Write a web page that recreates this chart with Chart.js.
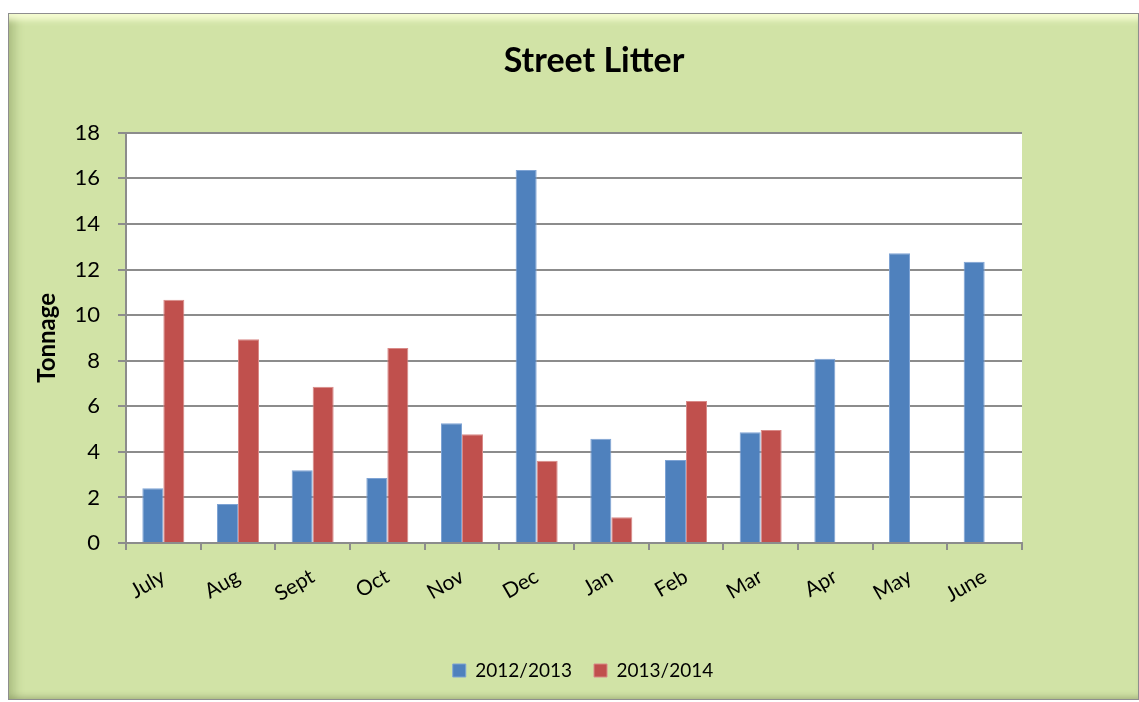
<!DOCTYPE html>
<html>
<head>
<meta charset="utf-8">
<script src="https://cdn.jsdelivr.net/npm/chart.js@4/dist/chart.umd.min.js"></script>
<style>
  html, body { margin: 0; padding: 0; background: #ffffff; overflow: hidden; }
  #frame {
    position: absolute; left: 8px; top: 13px; width: 1129px; height: 685px;
    background: #d1e3a6;
    border: 1px solid #8e8e8e;
    box-shadow: inset 0 12px 6px -6px rgba(250,255,215,0.9),
                inset 12px 0 10px -6px rgba(110,130,70,0.35),
                inset 0 -6px 6px -4px rgba(90,100,60,0.35);
  }
  #wrap { position: absolute; left: 0; top: 0; width: 1139px; height: 702px; }
</style>
</head>
<body>
<div id="frame"></div>
<div id="wrap"><canvas id="c" width="1139" height="702"></canvas></div>
<script>
const categories = ["July","Aug","Sept","Oct","Nov","Dec","Jan","Feb","Mar","Apr","May","June"];
const series2012 = [2.40, 1.71, 3.19, 2.85, 5.25, 16.37, 4.57, 3.64, 4.86, 8.08, 12.72, 12.34];
const series2013 = [10.67, 8.94, 6.86, 8.56, 4.77, 3.61, 1.13, 6.23, 4.96, null, null, null];
const seriesNames = ["2012/2013", "2013/2014"];
const yTicks = [0, 2, 4, 6, 8, 10, 12, 14, 16, 18];

const FONT = "Lato, 'Open Sans', sans-serif";

const plotBg = {
  id: 'plotBg',
  beforeDraw(chart) {
    const {ctx, chartArea: a} = chart;
    ctx.save();
    ctx.fillStyle = '#ffffff';
    ctx.fillRect(a.left, a.top, a.right - a.left, a.bottom - a.top);
    ctx.restore();
  }
};

// Center title and legend on the frame rather than on the padded canvas
const recenter = {
  id: 'recenter',
  afterLayout(chart) {
    const t = chart.titleBlock;
    if (t) { t.left += 68; t.right += 68; }
    const l = chart.legend;
    if (l) { l.left += 57; l.right += 57; }
  }
};

new Chart(document.getElementById('c'), {
  type: 'bar',
  data: {
    labels: categories,
    datasets: [
      { label: seriesNames[0], data: series2012, backgroundColor: '#4f81bd', borderColor: '#7ea3d4', borderWidth: 1 },
      { label: seriesNames[1], data: series2013, backgroundColor: '#c0504d', borderColor: '#d98a88', borderWidth: 1 }
    ]
  },
  plugins: [plotBg, recenter],
  options: {
    responsive: false,
    animation: false,
    layout: { padding: { left: 30, right: 117, top: 30, bottom: 12 } },
    datasets: { bar: { categoryPercentage: 0.5625, barPercentage: 1.0 } },
    plugins: {
      title: {
        display: true, text: 'Street Litter', color: '#000',
        font: { family: FONT, size: 34, weight: 'bold' },
        padding: { top: 11, bottom: 51 }
      },
      legend: {
        position: 'bottom',
        labels: {
          color: '#000', font: { family: FONT, size: 19 },
          boxWidth: 13, boxHeight: 13, padding: 22
        }
      },
      tooltip: { enabled: false }
    },
    scales: {
      x: {
        grid: { offset: true, drawOnChartArea: false, drawTicks: true, tickLength: 7, color: '#8c8c8c', lineWidth: 2 },
        border: { color: '#8c8c8c', width: 2 },
        ticks: { color: '#000', font: { family: FONT, size: 21 }, minRotation: 30, maxRotation: 30, padding: 14 },
        afterFit(s) { s.height = 96; }
      },
      y: {
        min: 0, max: 18,
        afterBuildTicks(s) { s.ticks = yTicks.map(v => ({ value: v })); },
        grid: { color: '#8c8c8c', lineWidth: 2, tickLength: 8 },
        border: { color: '#8c8c8c', width: 2 },
        ticks: { color: '#000', font: { family: FONT, size: 22 }, padding: 18 },
        title: { display: true, text: 'Tonnage', color: '#000', font: { family: FONT, size: 24, weight: 'bold' }, padding: { top: 3, bottom: 0 } },
        afterFit(s) { s.width = 96; }
      }
    }
  }
});
</script>
</body>
</html>
